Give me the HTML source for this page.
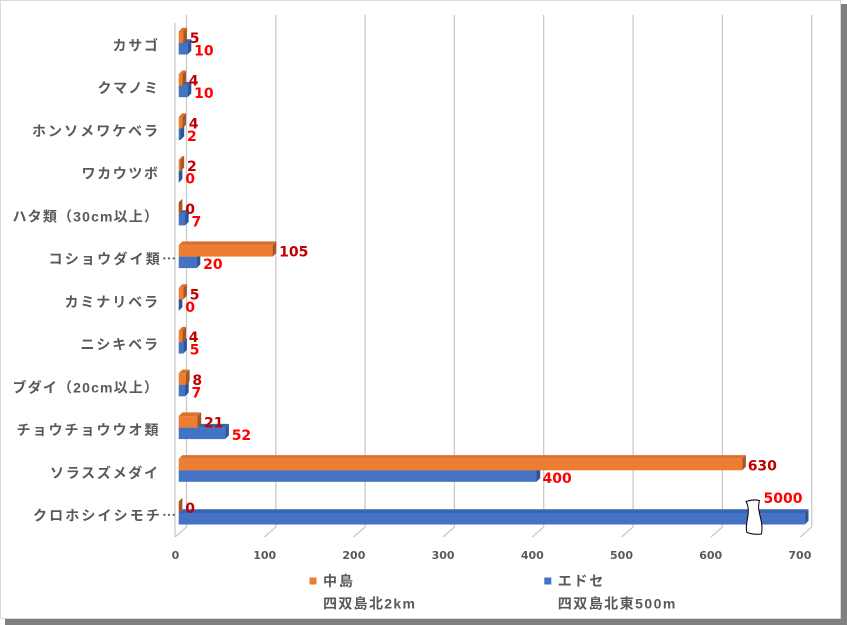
<!DOCTYPE html>
<html><head><meta charset="utf-8"><style>
html,body{margin:0;padding:0;background:#fff;}
svg{display:block;}
.bt{fill:#3A64B0}.bf{fill:#4472C4}.bs{fill:#2F5597}
.ot{fill:#D9722E}.of{fill:#ED7D31}.os{fill:#A85620}
.ol{font-family:"DejaVu Sans","Liberation Sans",sans-serif;font-weight:bold;font-size:14px;fill:#C00000}
.bl{font-family:"DejaVu Sans","Liberation Sans",sans-serif;font-weight:bold;font-size:14px;fill:#FF0000}
.cat{font-family:"Liberation Sans","Noto Sans CJK JP",sans-serif;font-weight:bold;font-size:14px;fill:#595959}
.jp{font-family:"Noto Sans CJK JP",sans-serif}
.tick{font-family:"DejaVu Sans","Liberation Sans",sans-serif;font-weight:bold;font-size:11px;fill:#595959}
.grid{stroke:#C9C9C9;stroke-width:1.3;fill:none}
</style></head><body>
<svg width="847" height="625" viewBox="0 0 847 625" xmlns="http://www.w3.org/2000/svg">
<rect x="5" y="4" width="842" height="621" fill="#7F7F7F"/>
<rect x="0.5" y="0.5" width="840" height="618" fill="#fff" stroke="#D9D9D9" stroke-width="1"/>

<g class="grid">
<line x1="175" y1="23" x2="175" y2="537"/>
<line x1="186.5" y1="15" x2="186.5" y2="527"/>
<line x1="275.8" y1="15" x2="275.8" y2="527"/>
<line x1="365.1" y1="15" x2="365.1" y2="527"/>
<line x1="454.4" y1="15" x2="454.4" y2="527"/>
<line x1="543.7" y1="15" x2="543.7" y2="527"/>
<line x1="633.1" y1="15" x2="633.1" y2="527"/>
<line x1="722.4" y1="15" x2="722.4" y2="527"/>
<line x1="811.7" y1="15" x2="811.7" y2="527"/>
<line x1="186.5" y1="527" x2="175" y2="537"/>
<line x1="275.8" y1="527" x2="264.3" y2="537"/>
<line x1="365.1" y1="527" x2="353.6" y2="537"/>
<line x1="454.4" y1="527" x2="442.9" y2="537"/>
<line x1="543.7" y1="527" x2="532.2" y2="537"/>
<line x1="633.1" y1="527" x2="621.6" y2="537"/>
<line x1="722.4" y1="527" x2="710.9" y2="537"/>
<line x1="811.7" y1="527" x2="800.2" y2="537"/>
</g>

<g class="tick" text-anchor="middle">
<text x="175.5" y="559">0</text>
<text x="264.7" y="559">100</text>
<text x="353.9" y="559">200</text>
<text x="443.1" y="559">300</text>
<text x="532.3" y="559">400</text>
<text x="621.5" y="559">500</text>
<text x="710.7" y="559">600</text>
<text x="799.9" y="559">700</text>
</g>

<g class="cat">
<text x="112.5" y="50.5" textLength="45.5" lengthAdjust="spacing">カサゴ</text>
<text x="97.5" y="93.2" textLength="60.5" lengthAdjust="spacing">クマノミ</text>
<text x="32" y="136" textLength="126" lengthAdjust="spacing">ホンソメワケベラ</text>
<text x="81.5" y="178.7" textLength="76.5" lengthAdjust="spacing">ワカウツボ</text>
<text x="12.5" y="221.4" textLength="145.5" lengthAdjust="spacing">ハタ類（30cm以上）</text>
<text x="48.5" y="264.1" textLength="127.5" lengthAdjust="spacing">コショウダイ類<tspan class="jp">…</tspan></text>
<text x="64.5" y="306.9" textLength="93.5" lengthAdjust="spacing">カミナリベラ</text>
<text x="80.5" y="349.6" textLength="77.5" lengthAdjust="spacing">ニシキベラ</text>
<text x="12.5" y="392.3" textLength="145.5" lengthAdjust="spacing">ブダイ（20cm以上）</text>
<text x="16.5" y="435.1" textLength="142" lengthAdjust="spacing">チョウチョウウオ類</text>
<text x="50" y="477.8" textLength="108" lengthAdjust="spacing">ソラスズメダイ</text>
<text x="33" y="520.5" textLength="143" lengthAdjust="spacing">クロホシイシモチ<tspan class="jp">…</tspan></text>
</g>

<g transform="translate(0,43)">
<polygon class="bt" points="178.7,0 182.4,-3.7 191.3,-3.7 187.6,0"/><rect class="bf" x="178.7" y="0" width="8.9" height="11.5"/><polygon class="bs" points="187.6,0 191.3,-3.7 191.3,7.8 187.6,11.5"/>
<polygon class="ot" points="178.7,-11.5 182.4,-15.2 186.9,-15.2 183.2,-11.5"/><rect class="of" x="178.7" y="-11.5" width="4.5" height="11.5"/><polygon class="os" points="183.2,-11.5 186.9,-15.2 186.9,-3.7 183.2,0"/>
<text class="ol" x="189.7" y="0">5</text><text class="bl" x="194.1" y="12.5">10</text>
</g>
<g transform="translate(0,85.7)">
<polygon class="bt" points="178.7,0 182.4,-3.7 191.3,-3.7 187.6,0"/><rect class="bf" x="178.7" y="0" width="8.9" height="11.5"/><polygon class="bs" points="187.6,0 191.3,-3.7 191.3,7.8 187.6,11.5"/>
<polygon class="ot" points="178.7,-11.5 182.4,-15.2 186,-15.2 182.3,-11.5"/><rect class="of" x="178.7" y="-11.5" width="3.6" height="11.5"/><polygon class="os" points="182.3,-11.5 186,-15.2 186,-3.7 182.3,0"/>
<text class="ol" x="188.8" y="0">4</text><text class="bl" x="194.1" y="12.5">10</text>
</g>
<g transform="translate(0,128.5)">
<polygon class="bt" points="178.7,0 182.4,-3.7 184.2,-3.7 180.5,0"/><rect class="bf" x="178.7" y="0" width="1.8" height="11.5"/><polygon class="bs" points="180.5,0 184.2,-3.7 184.2,7.8 180.5,11.5"/>
<polygon class="ot" points="178.7,-11.5 182.4,-15.2 186,-15.2 182.3,-11.5"/><rect class="of" x="178.7" y="-11.5" width="3.6" height="11.5"/><polygon class="os" points="182.3,-11.5 186,-15.2 186,-3.7 182.3,0"/>
<text class="ol" x="188.8" y="0">4</text><text class="bl" x="187" y="12.5">2</text>
</g>
<g transform="translate(0,171.2)">
<polygon class="bs" points="178.7,0 182.4,-3.7 182.4,7.8 178.7,11.5"/>
<polygon class="ot" points="178.7,-11.5 182.4,-15.2 184.2,-15.2 180.5,-11.5"/><rect class="of" x="178.7" y="-11.5" width="1.8" height="11.5"/><polygon class="os" points="180.5,-11.5 184.2,-15.2 184.2,-3.7 180.5,0"/>
<text class="ol" x="187" y="0">2</text><text class="bl" x="185.2" y="12.5">0</text>
</g>
<g transform="translate(0,213.9)">
<polygon class="bt" points="178.7,0 182.4,-3.7 188.7,-3.7 185,0"/><rect class="bf" x="178.7" y="0" width="6.3" height="11.5"/><polygon class="bs" points="185,0 188.7,-3.7 188.7,7.8 185,11.5"/>
<polygon class="os" points="178.7,-11.5 182.4,-15.2 182.4,-3.7 178.7,0"/>
<text class="ol" x="185.2" y="0">0</text><text class="bl" x="191.5" y="12.5">7</text>
</g>
<g transform="translate(0,256.6)">
<polygon class="bt" points="178.7,0 182.4,-3.7 200.3,-3.7 196.6,0"/><rect class="bf" x="178.7" y="0" width="17.9" height="11.5"/><polygon class="bs" points="196.6,0 200.3,-3.7 200.3,7.8 196.6,11.5"/>
<polygon class="ot" points="178.7,-11.5 182.4,-15.2 276.3,-15.2 272.6,-11.5"/><rect class="of" x="178.7" y="-11.5" width="93.9" height="11.5"/><polygon class="os" points="272.6,-11.5 276.3,-15.2 276.3,-3.7 272.6,0"/>
<text class="ol" x="279.1" y="0">105</text><text class="bl" x="203.1" y="12.5">20</text>
</g>
<g transform="translate(0,299.4)">
<polygon class="bs" points="178.7,0 182.4,-3.7 182.4,7.8 178.7,11.5"/>
<polygon class="ot" points="178.7,-11.5 182.4,-15.2 186.9,-15.2 183.2,-11.5"/><rect class="of" x="178.7" y="-11.5" width="4.5" height="11.5"/><polygon class="os" points="183.2,-11.5 186.9,-15.2 186.9,-3.7 183.2,0"/>
<text class="ol" x="189.7" y="0">5</text><text class="bl" x="185.2" y="12.5">0</text>
</g>
<g transform="translate(0,342.1)">
<polygon class="bt" points="178.7,0 182.4,-3.7 186.9,-3.7 183.2,0"/><rect class="bf" x="178.7" y="0" width="4.5" height="11.5"/><polygon class="bs" points="183.2,0 186.9,-3.7 186.9,7.8 183.2,11.5"/>
<polygon class="ot" points="178.7,-11.5 182.4,-15.2 186,-15.2 182.3,-11.5"/><rect class="of" x="178.7" y="-11.5" width="3.6" height="11.5"/><polygon class="os" points="182.3,-11.5 186,-15.2 186,-3.7 182.3,0"/>
<text class="ol" x="188.8" y="0">4</text><text class="bl" x="189.7" y="12.5">5</text>
</g>
<g transform="translate(0,384.8)">
<polygon class="bt" points="178.7,0 182.4,-3.7 188.7,-3.7 185,0"/><rect class="bf" x="178.7" y="0" width="6.3" height="11.5"/><polygon class="bs" points="185,0 188.7,-3.7 188.7,7.8 185,11.5"/>
<polygon class="ot" points="178.7,-11.5 182.4,-15.2 189.6,-15.2 185.9,-11.5"/><rect class="of" x="178.7" y="-11.5" width="7.2" height="11.5"/><polygon class="os" points="185.9,-11.5 189.6,-15.2 189.6,-3.7 185.9,0"/>
<text class="ol" x="192.4" y="0">8</text><text class="bl" x="191.5" y="12.5">7</text>
</g>
<g transform="translate(0,427.6)">
<polygon class="bt" points="178.7,0 182.4,-3.7 228.9,-3.7 225.2,0"/><rect class="bf" x="178.7" y="0" width="46.5" height="11.5"/><polygon class="bs" points="225.2,0 228.9,-3.7 228.9,7.8 225.2,11.5"/>
<polygon class="ot" points="178.7,-11.5 182.4,-15.2 201.2,-15.2 197.5,-11.5"/><rect class="of" x="178.7" y="-11.5" width="18.8" height="11.5"/><polygon class="os" points="197.5,-11.5 201.2,-15.2 201.2,-3.7 197.5,0"/>
<text class="ol" x="204" y="0">21</text><text class="bl" x="231.7" y="12.5">52</text>
</g>
<g transform="translate(0,470.3)">
<polygon class="bt" points="178.7,0 182.4,-3.7 540.2,-3.7 536.5,0"/><rect class="bf" x="178.7" y="0" width="357.8" height="11.5"/><polygon class="bs" points="536.5,0 540.2,-3.7 540.2,7.8 536.5,11.5"/>
<polygon class="ot" points="178.7,-11.5 182.4,-15.2 745.9,-15.2 742.2,-11.5"/><rect class="of" x="178.7" y="-11.5" width="563.5" height="11.5"/><polygon class="os" points="742.2,-11.5 745.9,-15.2 745.9,-3.7 742.2,0"/>
<text class="ol" x="747.7" y="0">630</text><text class="bl" x="542.5" y="12.5">400</text>
</g>
<g transform="translate(0,513)">
<polygon class="bt" points="178.7,0 182.4,-3.7 808.5,-3.7 804.8,0"/><rect class="bf" x="178.7" y="0" width="626.1" height="11.5"/><polygon class="bs" points="804.8,0 808.5,-3.7 808.5,7.8 804.8,11.5"/>
<polygon class="os" points="178.7,-11.5 182.4,-15.2 182.4,-3.7 178.7,0"/>
<text class="ol" x="185.2" y="0">0</text>
</g>
<path d="M746,501.5 Q753,499 759.5,500.5 C756,512 764,520 761.5,534 Q754,535 747,532.5 C744,524 752,512 746,501.5 Z" fill="#fff" stroke="#000" stroke-width="1"/>
<text class="bl" x="763.5" y="503">5000</text>

<rect x="309.5" y="577.5" width="7" height="7" fill="#ED7D31"/>
<rect x="544.3" y="577.5" width="7" height="7" fill="#4472C4"/>
<g class="cat">
<text x="323" y="586" textLength="30" lengthAdjust="spacing">中島</text>
<text x="557.8" y="586" textLength="45.5" lengthAdjust="spacing">エドセ</text>
<text x="323" y="608.5" textLength="92" lengthAdjust="spacing">四双島北2km</text>
<text x="557.8" y="608.5" textLength="117.5" lengthAdjust="spacing">四双島北東500m</text>
</g>
</svg>
</body></html>
